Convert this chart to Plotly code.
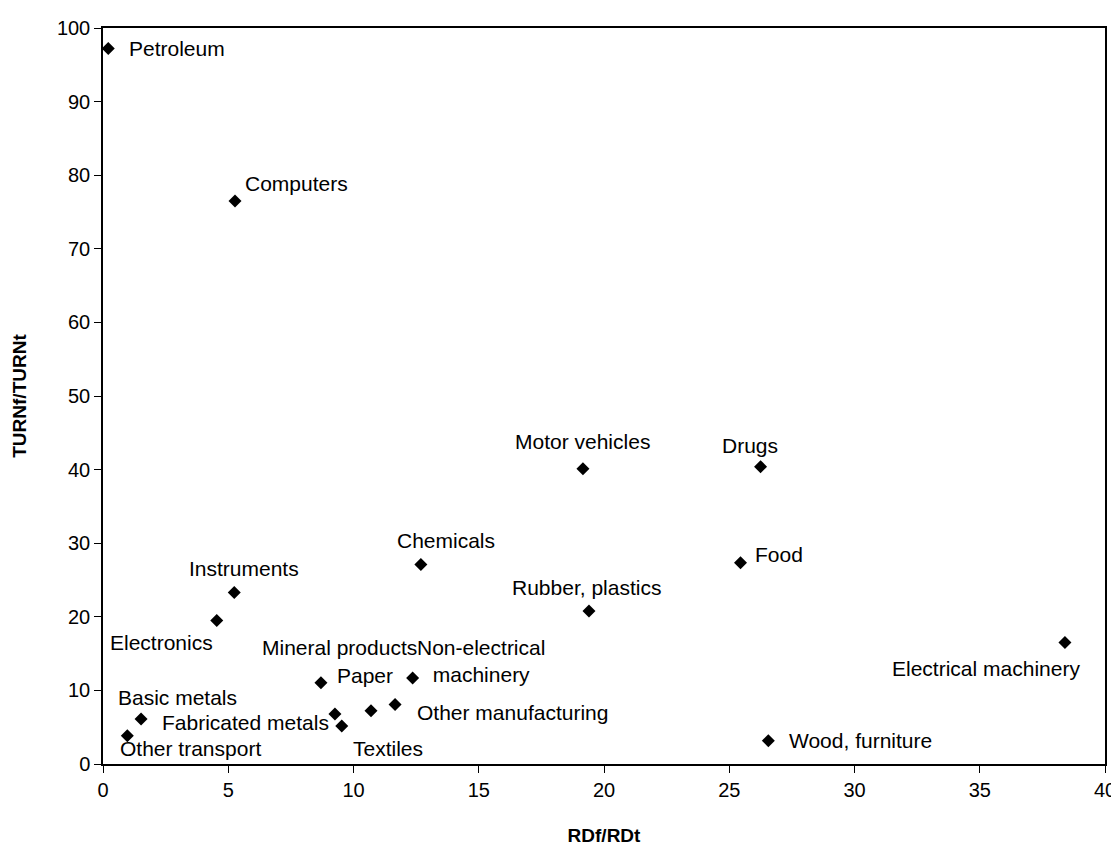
import plotly.graph_objects as go

names = ["Petroleum", "Computers", "Motor vehicles", "Drugs", "Chemicals", "Food",
         "Rubber, plastics", "Instruments", "Electronics", "Mineral products", "Paper",
         "Non-electrical<br>machinery", "Fabricated metals", "Textiles",
         "Other manufacturing", "Basic metals", "Other transport", "Wood, furniture",
         "Electrical machinery"]
rdf = [0.21, 5.27, 19.16, 26.25, 12.69, 25.45, 19.40, 5.24, 4.54, 10.70, 8.70,
       12.36, 9.26, 9.53, 11.66, 1.52, 0.97, 26.56, 38.40]
turnf = [97.2, 76.5, 40.1, 40.4, 27.1, 27.35, 20.8, 23.3, 19.5, 7.24, 11.05,
         11.68, 6.8, 5.16, 8.1, 6.1, 3.85, 3.17, 16.5]

x_ticks = [0, 5, 10, 15, 20, 25, 30, 35, 40]
y_ticks = [0, 10, 20, 30, 40, 50, 60, 70, 80, 90, 100]

# label placement: (anchor, dx px, dy px screen-down)
label_pos = {
    "Petroleum": ("left", 19, 0),
    "Computers": ("left", 8, -17),
    "Motor vehicles": ("center", 0, -27),
    "Drugs": ("center", -11, -21),
    "Chemicals": ("center", 25, -24),
    "Food": ("left", 12, -8),
    "Rubber, plastics": ("center", -2, -23),
    "Instruments": ("center", 10, -24),
    "Electronics": ("center", -55, 22),
    "Mineral products": ("center", -32, -63),
    "Paper": ("center", 44, -7),
    "Non-electrical<br>machinery": ("center", 68, -17),
    "Fabricated metals": ("center", -89, 9),
    "Textiles": ("center", 46, 22),
    "Other manufacturing": ("left", 20, 8),
    "Basic metals": ("center", 36, -22),
    "Other transport": ("center", 63, 13),
    "Wood, furniture": ("left", 19, 0),
    "Electrical machinery": ("right", 17, 26),
}

FONT = "Arial, Liberation Sans, sans-serif"

fig = go.Figure()
fig.add_trace(go.Scatter(
    x=rdf, y=turnf, mode="markers",
    marker=dict(symbol="diamond", size=10, color="black"),
    hoverinfo="text", text=names, showlegend=False,
))

annotations = []
for n, xv, yv in zip(names, rdf, turnf):
    anc, dx, dy = label_pos[n]
    annotations.append(dict(
        x=xv, y=yv, xref="x", yref="y", text=n, showarrow=False,
        xanchor=anc, yanchor="middle", xshift=dx, yshift=-dy,
        font=dict(family=FONT, size=21, color="black"), align="center",
    ))

fig.update_layout(
    width=1111, height=838,
    margin=dict(l=95, r=14, t=20, b=82),
    paper_bgcolor="white", plot_bgcolor="white",
    font=dict(family=FONT, size=20, color="black"),
    annotations=annotations,
    xaxis=dict(
        range=[0, 40], tickvals=x_ticks, ticktext=[str(v) for v in x_ticks],
        showline=True, linecolor="black", linewidth=1.5, mirror=True,
        ticks="outside", ticklen=7, tickcolor="black", tickwidth=1,
        showgrid=False, zeroline=False, automargin=False,
        tickfont=dict(family=FONT, size=20),
        title=dict(text="<b>RDf/RDt</b>", font=dict(family=FONT, size=19), standoff=40),
    ),
    yaxis=dict(
        range=[0, 100], tickvals=y_ticks, ticktext=[str(v) for v in y_ticks],
        showline=True, linecolor="black", linewidth=1.5, mirror=True,
        ticks="outside", ticklen=7, tickcolor="black", tickwidth=1,
        showgrid=False, zeroline=False, automargin=False,
        tickfont=dict(family=FONT, size=20),
        title=dict(text="<b>TURNf/TURNt</b>", font=dict(family=FONT, size=19), standoff=25),
    ),
)

fig.write_html("out.html")
